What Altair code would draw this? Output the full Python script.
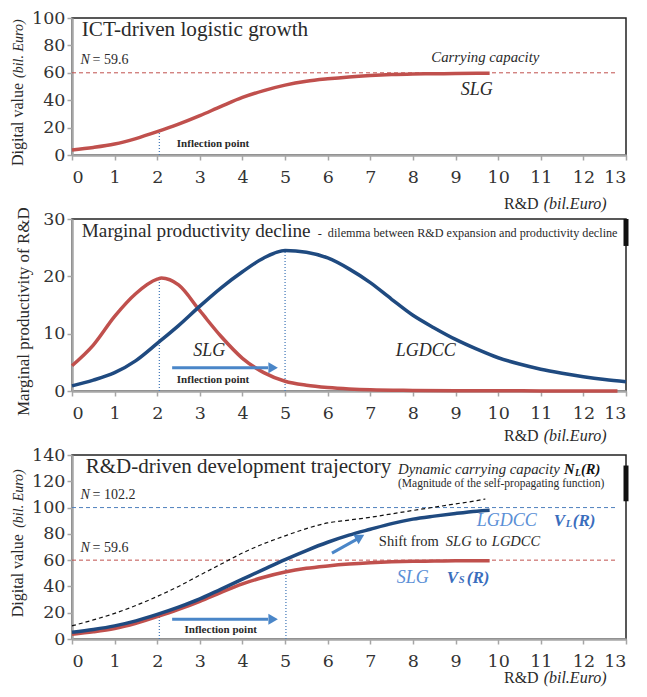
import altair as alt
import pandas as pd

# ---------------- data ----------------
x_slg = [0, 0.5, 1, 1.5, 2, 2.5, 3, 3.5, 4, 4.5, 5, 5.5, 6, 6.5, 7, 7.5, 8, 8.5, 9, 9.5, 9.8]
v_slg = [3.7, 5.5, 8, 12, 17, 22.5, 28.7, 35.5, 42, 47, 51, 53.8, 55.6, 57, 58, 58.7, 59.1, 59.3, 59.5, 59.6, 59.6]

x_lg = [0, 0.5, 1, 1.5, 2, 2.5, 3, 3.5, 4, 4.5, 5, 5.5, 6, 6.5, 7, 7.5, 8, 8.5, 9, 9.5, 9.8]
v_lg = [5.2, 7.3, 10, 13.8, 18.7, 24.2, 30.5, 38, 45.5, 53, 60.4, 67.3, 73.6, 79, 83.5, 87.8, 91.2, 93.5, 95.5, 97.2, 97.9]

x_dcc = [0, 0.5, 1, 1.5, 2, 2.5, 3, 3.5, 4, 4.5, 5, 5.5, 6, 6.5, 7, 7.5, 8, 8.5, 9, 9.5, 9.7]
v_dcc = [10, 14.5, 19.5, 25.5, 32.4, 40, 48.6, 57, 65.4, 72.5, 78.5, 84, 88.3, 90.5, 92.6, 95.2, 97.8, 100.3, 102.8, 105.3, 106.5]

x_mp_slg = [0, 0.5, 1, 1.5, 2, 2.1, 2.5, 3, 3.5, 4, 4.5, 5, 5.5, 6, 6.5, 7, 8, 9, 10, 11, 12, 12.8]
v_mp_slg = [4.4, 8, 13, 17, 19.5, 19.7, 18.5, 14, 9.5, 5.7, 3.2, 1.7, 1, 0.6, 0.35, 0.2, 0.1, 0.05, 0.03, 0.02, 0.01, 0.01]

x_mp_lg = [0, 0.5, 1, 1.5, 2, 2.5, 3, 3.5, 4, 4.5, 5, 5.5, 6, 6.5, 7, 7.5, 8, 8.5, 9, 9.5, 10, 10.5, 11, 11.5, 12, 12.5, 13]
v_mp_lg = [0.9, 1.9, 3.2, 5.3, 8.3, 11.4, 14.8, 18, 20.8, 23.2, 24.5, 24.2, 23.2, 21.3, 18.9, 16, 13.2, 11, 9, 7.3, 5.8, 4.7, 3.8, 3.1, 2.5, 2, 1.6]

x_ticks = list(range(0, 14))
y_ticks_top = [0, 20, 40, 60, 80, 100]
y_ticks_mid = [0, 10, 20, 30]
y_ticks_bot = [0, 20, 40, 60, 80, 100, 120, 140]

cap_slg = 60
cap_lg = 100
infl_slg = 2.05
infl_lg = 5.0

# ---------------- styles ----------------
SERIF = "Liberation Serif"
TICKF = "DejaVu Serif"
RED = "#c0504d"
DBLUE = "#1f4a80"
ARROW = "#4a86c8"
LBLUE = "#5b8fd6"
BBLUE = "#3a6dbd"
DOT = "#4a7ebb"
TXT = "#2a2a2a"

W = 554
xs = alt.Scale(domain=[0, 13], nice=False, zero=False)


def enc(ys, yvals, extra=None):
    xa = alt.Axis(values=x_ticks, format="d", grid=False)
    ya = alt.Axis(values=yvals, format="d", grid=False)
    e = dict(x=alt.X("x:Q", scale=xs, axis=xa, title=None),
             y=alt.Y("y:Q", scale=ys, axis=ya, title=None))
    if extra:
        e.update(extra)
    return e


def line(xv, yv, ys, yvals, color, width, dash=None):
    df = pd.DataFrame({"x": xv, "y": yv})
    kw = dict(color=color, strokeWidth=width, interpolate="monotone")
    if dash:
        kw["strokeDash"] = dash
    return alt.Chart(df).mark_line(**kw).encode(**enc(ys, yvals))


def hrule(yv, x0, x1, ys, yvals, color, dash, width=1):
    df = pd.DataFrame({"x": [x0], "x2": [x1], "y": [yv]})
    return alt.Chart(df).mark_rule(color=color, strokeDash=dash, strokeWidth=width).encode(
        **enc(ys, yvals, {"x2": "x2:Q"}))


def vrule(xv, y0, y1, ys, yvals, color, dash, width=1.3):
    df = pd.DataFrame({"x": [xv], "y": [y0], "y2": [y1]})
    kw = dict(color=color, strokeWidth=width)
    if dash:
        kw["strokeDash"] = dash
    return alt.Chart(df).mark_rule(**kw).encode(**enc(ys, yvals, {"y2": "y2:Q"}))


def arrow(x0, y0, x1, y1, hx, hy, angle, ys, yvals):
    df = pd.DataFrame({"x": [x0], "x2": [x1], "y": [y0], "y2": [y1]})
    r = alt.Chart(df).mark_rule(color=ARROW, strokeWidth=3).encode(
        **enc(ys, yvals, {"x2": "x2:Q", "y2": "y2:Q"}))
    dh = pd.DataFrame({"x": [hx], "y": [hy]})
    h = alt.Chart(dh).mark_point(shape="triangle-up", angle=angle, filled=True, size=120,
                                 color=ARROW, opacity=1, strokeWidth=0).encode(**enc(ys, yvals))
    return [r, h]


def T(x, y, s, ys, yvals, size=14, style="normal", weight="normal", color=TXT,
      align="left", font=SERIF, angle=0, baseline="middle", dx=0, dy=0):
    df = pd.DataFrame({"x": [x], "y": [y], "t": [s]})
    return alt.Chart(df).mark_text(align=align, baseline=baseline, fontSize=size, fontStyle=style,
                                   fontWeight=weight, color=color, font=font, angle=angle,
                                   dx=dx, dy=dy).encode(**enc(ys, yvals, {"text": "t:N"}))


def xtitle(yv, ys, yvals):
    return [T(10.95, yv, "R&D", ys, yvals, size=16, align="right"),
            T(10.95, yv, "(bil.Euro)", ys, yvals, size=16, style="italic", dx=5)]


def capN(yv, label, ys, yvals):
    return [T(0.2, yv, "N", ys, yvals, size=14, style="italic"),
            T(0.2, yv, label, ys, yvals, size=14, dx=12)]


# ---------------- top panel ----------------
ys1 = alt.Scale(domain=[0, 100], nice=False)
yv1 = y_ticks_top
top_layers = [
    hrule(cap_slg, 0, 12.8, ys1, yv1, RED, [4, 3]),
    vrule(infl_slg, 0, 18.5, ys1, yv1, DOT, [1, 2]),
    line(x_slg, v_slg, ys1, yv1, RED, 3.5),
    T(0.23, 90.9, "ICT-driven logistic growth", ys1, yv1, size=21.2),
    T(9.7, 70.6, "Carrying capacity", ys1, yv1, size=14.8, style="italic", align="center"),
    T(9.5, 47.2, "SLG", ys1, yv1, size=18, style="italic", align="center"),
    T(2.46, 8.2, "Inflection point", ys1, yv1, size=11, weight="bold"),
    T(-1.16, -8.0, "Digital value", ys1, yv1, size=16, angle=270, baseline="alphabetic"),
    T(-1.16, 56.2, "(bil. Euro)", ys1, yv1, size=14, style="italic", angle=270, baseline="alphabetic"),
] + capN(69.1, "= 59.6", ys1, yv1) + xtitle(-35.8, ys1, yv1)
top = alt.layer(*top_layers).properties(width=W, height=137)

# ---------------- middle panel ----------------
ys2 = alt.Scale(domain=[0, 30], nice=False)
yv2 = y_ticks_mid
mid_layers = [
    vrule(infl_slg, 0, 19.7, ys2, yv2, DOT, [1, 2]),
    vrule(infl_lg, 0, 24.5, ys2, yv2, DOT, [1, 2]),
    line(x_mp_slg, v_mp_slg, ys2, yv2, RED, 3.5),
    line(x_mp_lg, v_mp_lg, ys2, yv2, DBLUE, 3.5),
    vrule(13, 30, 25.3, ys2, yv2, "#111", None, 5),
    T(0.23, 27.9, "Marginal productivity decline", ys2, yv2, size=19.2),
    T(0.23, 27.6, "-", ys2, yv2, size=12.4, dx=236),
    T(0.23, 27.5, "dilemma between R&D expansion and productivity decline", ys2, yv2, size=12.2, dx=246),
    T(3.22, 7.0, "SLG", ys2, yv2, size=18, style="italic", align="center"),
    T(8.3, 7.0, "LGDCC", ys2, yv2, size=18, style="italic", align="center"),
    T(2.46, 1.92, "Inflection point", ys2, yv2, size=11, weight="bold"),
    T(-1.02, -4.36, "Marginal productivity of R&D", ys2, yv2, size=17, angle=270, baseline="alphabetic"),
] + arrow(2.35, 4.07, 4.6, 4.07, 4.72, 4.07, 90, ys2, yv2) + xtitle(-7.85, ys2, yv2)
mid = alt.layer(*mid_layers).properties(width=W, height=172)

# ---------------- bottom panel ----------------
ys3 = alt.Scale(domain=[0, 140], nice=False)
yv3 = y_ticks_bot
bot_layers = [
    hrule(cap_lg, 0, 12.8, ys3, yv3, "#4f81bd", [4, 3]),
    hrule(cap_slg, 0, 12.8, ys3, yv3, RED, [4, 3]),
    vrule(infl_slg, 0, 18.7, ys3, yv3, DOT, [1, 2]),
    vrule(5.02, 0, 60.4, ys3, yv3, DOT, [1, 2]),
    line(x_dcc, v_dcc, ys3, yv3, "#111", 1.2, [4, 3]),
    line(x_slg, v_slg, ys3, yv3, RED, 3.5),
    line(x_lg, v_lg, ys3, yv3, DBLUE, 3.5),
    vrule(13, 132, 104.8, ys3, yv3, "#111", None, 5),
    T(0.32, 131, "R&D-driven development trajectory", ys3, yv3, size=21),
    T(7.65, 128.7, "Dynamic carrying capacity", ys3, yv3, size=14.8, style="italic"),
    T(7.65, 128.7, "N", ys3, yv3, size=14.5, style="italic", weight="bold", color="#111", dx=166),
    T(7.65, 128.7, "L", ys3, yv3, size=9.5, style="italic", weight="bold", color="#111", dx=177, dy=3),
    T(7.65, 128.7, "(R)", ys3, yv3, size=14.5, style="italic", weight="bold", color="#111", dx=183),
    T(7.65, 118.3, "(Magnitude of the self-propagating function)", ys3, yv3, size=11.5),
    T(9.5, 89.8, "LGDCC", ys3, yv3, size=18, style="italic", color=LBLUE),
    T(9.5, 89.8, "V", ys3, yv3, size=17, style="italic", weight="bold", color=BBLUE, dx=77),
    T(9.5, 89.8, "L", ys3, yv3, size=10.5, style="italic", weight="bold", color=BBLUE, dx=89, dy=3),
    T(9.5, 89.8, "(R)", ys3, yv3, size=17, style="italic", weight="bold", color=BBLUE, dx=96),
    T(7.2, 73.6, "Shift from", ys3, yv3, size=14.5),
    T(7.2, 73.6, "SLG", ys3, yv3, size=14.5, style="italic", dx=67),
    T(7.2, 73.6, "to", ys3, yv3, size=14.5, dx=97),
    T(7.2, 73.6, "LGDCC", ys3, yv3, size=14.5, style="italic", dx=113),
    T(7.62, 46.6, "SLG", ys3, yv3, size=18, style="italic", color=LBLUE),
    T(7.62, 46.6, "V", ys3, yv3, size=17, style="italic", weight="bold", color=BBLUE, dx=50),
    T(7.62, 46.6, "S", ys3, yv3, size=10.5, style="italic", weight="bold", color=BBLUE, dx=62, dy=2),
    T(7.62, 46.6, "(R)", ys3, yv3, size=17, style="italic", weight="bold", color=BBLUE, dx=70),
    T(2.64, 6.7, "Inflection point", ys3, yv3, size=11, weight="bold"),
    T(-1.16, 16.5, "Digital value", ys3, yv3, size=16, angle=270, baseline="alphabetic"),
    T(-1.16, 84.6, "(bil. Euro)", ys3, yv3, size=14, style="italic", angle=270, baseline="alphabetic"),
] + capN(109.8, "= 102.2", ys3, yv3) + capN(69.4, "= 59.6", ys3, yv3) \
  + arrow(2.35, 15, 4.6, 15, 4.72, 15, 90, ys3, yv3) \
  + arrow(6.1, 65.3, 6.7, 76.2, 6.76, 77.5, 61, ys3, yv3) \
  + xtitle(-29.4, ys3, yv3)
bot = alt.layer(*bot_layers).properties(width=W, height=184)

chart = alt.vconcat(top, mid, bot, spacing=64, bounds="flush").properties(
    padding={"left": 0, "top": 0, "right": 0, "bottom": 0}
).configure_view(
    stroke="#222", strokeWidth=1.5
).configure_axis(
    labelFont=TICKF, labelFontSize=17.5, labelColor="#333",
    domainColor="#a6a6a6", domainWidth=2.5, tickColor="#a6a6a6", tickSize=5, tickWidth=1.5,
    labelPadding=2
).configure_axisX(
    labelPadding=8
)

chart.save("out.html", embed_options={"renderer": "svg", "actions": False})
